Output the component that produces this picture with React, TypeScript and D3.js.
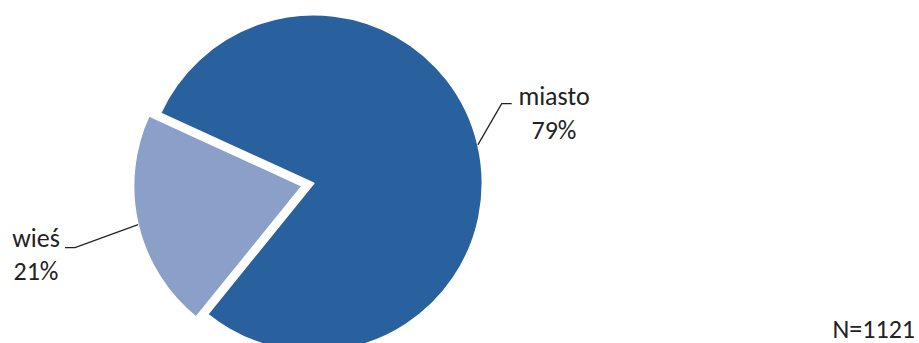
import React from "react";
import * as d3 from "d3";

const categories = ["miasto", "wieś"];
const values = [79, 21];
const percentLabels = ["79%", "21%"];
const colors = ["#29609E", "#8BA0C8"];
const note = "N=1121";

const W = 919;
const H = 343;
const cx = 313.8;
const cy = 183.3;
const R = 168.5;
const explode = [0, 12];
const startDeg = -65.4;

export default function App() {
  const pie = d3
    .pie<number>()
    .sort(null)
    .value((d) => d)
    .startAngle((startDeg * Math.PI) / 180)
    .endAngle((startDeg * Math.PI) / 180 + 2 * Math.PI);
  const arcs = pie(values);
  const arcGen = d3.arc<d3.PieArcDatum<number>>().innerRadius(0).outerRadius(R);

  const font = "Carlito, Lato, 'Liberation Sans', sans-serif";
  const fs = 26;

  return (
    <svg
      width={W}
      height={H}
      style={{ position: "absolute", left: 0, top: 0, background: "#fff" }}
    >
      {arcs.map((a, i) => {
        const mid = (a.startAngle + a.endAngle) / 2;
        const ox = Math.sin(mid) * explode[i];
        const oy = -Math.cos(mid) * explode[i];
        const px = cx + ox;
        const py = cy + oy;
        const sx = px + Math.sin(mid) * R;
        const sy = py - Math.cos(mid) * R;
        const right = Math.sin(mid) > 0;
        const ex = right ? 501.7 : 75;
        const ey = right ? 103.7 : 247.7;
        const hx = right ? ex + 10 : ex - 10;
        const tx = right ? 554 : 36;
        const ty1 = right ? 105 : 246.7;
        return (
          <g key={categories[i]}>
            <path
              d={arcGen(a) || ""}
              transform={`translate(${px},${py})`}
              fill={colors[i]}
              stroke="#fff"
              strokeWidth={1.5}
              strokeLinejoin="round"
            />
            <polyline
              points={`${sx},${sy} ${ex},${ey} ${hx},${ey}`}
              fill="none"
              stroke="#222"
              strokeWidth={1.3}
            />
            <text
              x={tx}
              y={ty1}
              textAnchor="middle"
              fontFamily={font}
              fontSize={fs}
              fill="#222"
            >
              {categories[i]}
            </text>
            <text
              x={tx}
              y={ty1 + 33.5}
              textAnchor="middle"
              fontFamily={font}
              fontSize={fs}
              fill="#222"
            >
              {percentLabels[i]}
            </text>
          </g>
        );
      })}
      <text
        x={915}
        y={337.5}
        textAnchor="end"
        fontFamily={font}
        fontSize={fs}
        fill="#222"
      >
        {note}
      </text>
    </svg>
  );
}
